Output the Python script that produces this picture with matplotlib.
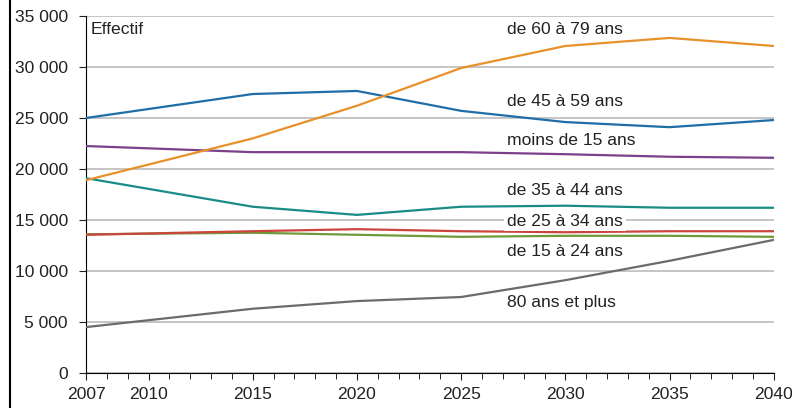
import matplotlib.pyplot as plt
from matplotlib.ticker import FuncFormatter, MultipleLocator
from matplotlib.lines import Line2D

plt.rcParams['font.family'] = ['Liberation Sans', 'DejaVu Sans']

annees = [2007, 2015, 2020, 2025, 2030, 2035, 2040]
moins_15 = [22250, 21650, 21650, 21650, 21450, 21200, 21100]
de_15_24 = [13600, 13750, 13550, 13350, 13450, 13450, 13350]
de_25_34 = [13550, 13900, 14100, 13900, 13800, 13900, 13900]
de_35_44 = [19100, 16300, 15500, 16300, 16400, 16200, 16200]
de_45_59 = [25000, 27350, 27650, 25700, 24600, 24100, 24800]
de_60_79 = [18900, 23000, 26200, 29900, 32060, 32850, 32060]
plus_80 = [4500, 6300, 7050, 7450, 9100, 11000, 13050]

series = [
    (moins_15, "moins de 15 ans", "#7B3F8C", 22750),
    (de_15_24, "de 15 à 24 ans", "#6E9A3A", 11960),
    (de_25_34, "de 25 à 34 ans", "#C9453E", 14900),
    (de_35_44, "de 35 à 44 ans", "#1A8C86", 17940),
    (de_45_59, "de 45 à 59 ans", "#1F6EA8", 26570),
    (de_60_79, "de 60 à 79 ans", "#E8902A", 33630),
    (plus_80, "80 ans et plus", "#6B6B6B", 6960),
]

fig = plt.figure(figsize=(7.92, 4.08), dpi=100)
ax = fig.add_axes([0.1086, 0.0858, 0.8684, 0.875])

for valeurs, nom, couleur, y_label in series:
    ax.plot(annees, valeurs, color=couleur, lw=1.6, zorder=3)
    txt = ax.text(2027.2, y_label, nom, fontsize=12.6, color="#222222",
                  va="center", ha="left", zorder=4)
    if nom == "de 25 à 34 ans":
        txt.set_bbox(dict(facecolor="white", edgecolor="none", pad=2))

ax.text(2007.2, 33630, "Effectif", fontsize=12.6, color="#222222", va="center", ha="left")

ax.set_xlim(2007, 2040)
ax.set_ylim(0, 35000)
ax.set_xticks([2007, 2010, 2015, 2020, 2025, 2030, 2035, 2040])
ax.xaxis.set_minor_locator(MultipleLocator(1))
ax.yaxis.set_major_locator(MultipleLocator(5000))
ax.yaxis.set_major_formatter(FuncFormatter(lambda v, p: f"{int(v):,}".replace(",", " ")))
ax.grid(axis="y", color="#BBBBBB", lw=1.2)
ax.set_axisbelow(True)

for s in ["top", "right"]:
    ax.spines[s].set_visible(False)
ax.spines["left"].set_color("black")
ax.spines["bottom"].set_color("black")
ax.tick_params(axis="both", labelsize=12.6, colors="#222222", length=5)
ax.tick_params(axis="y", pad=8)
ax.tick_params(axis="x", which="minor", length=4)
ax.tick_params(axis="x", which="both", direction="out", pad=5)

fig.add_artist(Line2D([10 / 792, 10 / 792], [0, 1], color="black", lw=1.5))

fig.savefig("out.png", dpi=100)
